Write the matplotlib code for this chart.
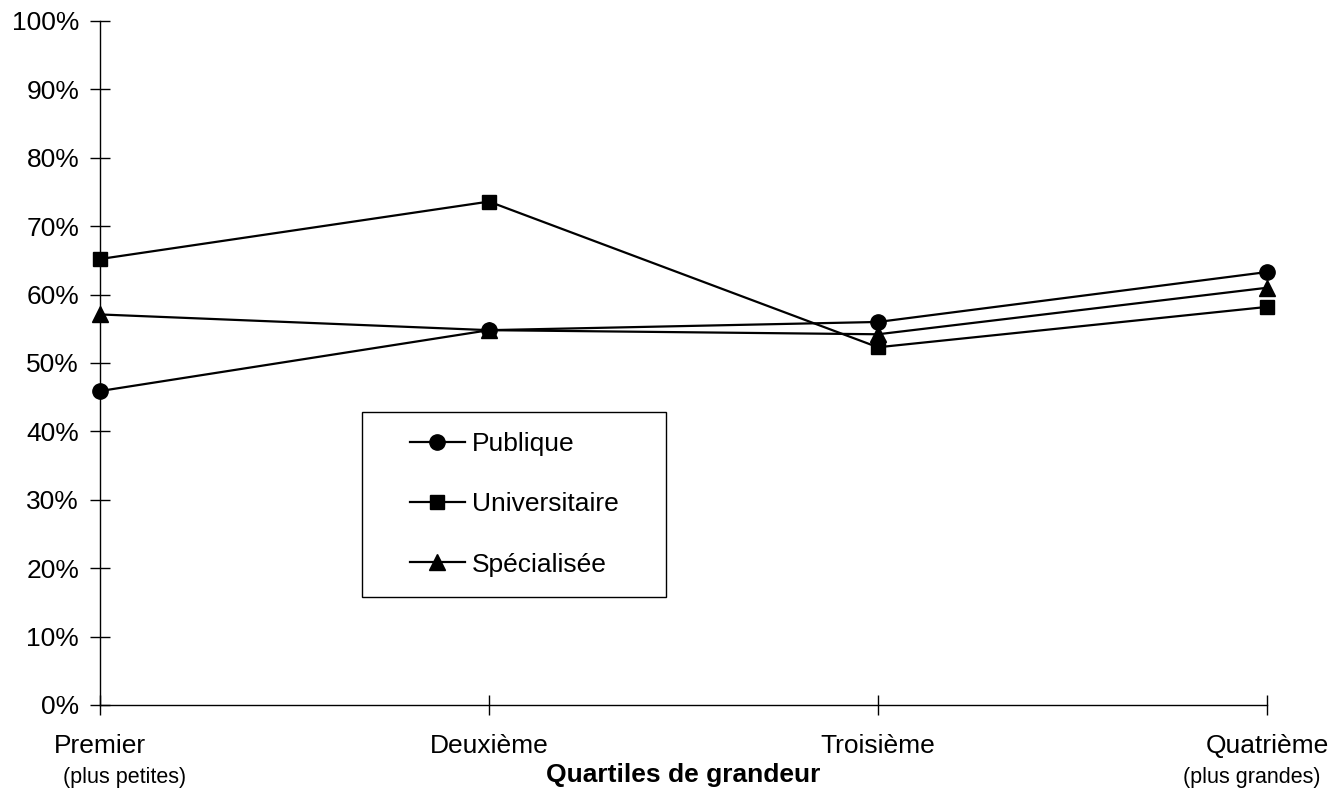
import matplotlib
matplotlib.use("Agg")
import matplotlib.pyplot as plt
from matplotlib.patches import Rectangle
from matplotlib.ticker import PercentFormatter

plt.rcParams["font.family"] = ["Liberation Sans", "DejaVu Sans"]

categories = ["Premier", "Deuxième", "Troisième", "Quatrième"]
sub_labels = ["(plus petites)", "", "", "(plus grandes)"]
publique = [45.9, 54.8, 56.0, 63.3]
universitaire = [65.2, 73.6, 52.3, 58.2]
specialisee = [57.1, 54.8, 54.2, 61.0]

fig = plt.figure(figsize=(13.32, 7.91), dpi=100)
ax = fig.add_axes([100 / 1332, 1 - 705 / 791, 1167 / 1332, 684 / 791])

x = list(range(len(categories)))
ax.plot(x, publique, color="black", lw=1.6, marker="o", ms=11, label="Publique", clip_on=False)
ax.plot(x, universitaire, color="black", lw=1.6, marker="s", ms=10, label="Universitaire", clip_on=False)
ax.plot(x, specialisee, color="black", lw=1.6, marker="^", ms=11, label="Spécialisée", clip_on=False)

ax.set_xlim(0, 3)
ax.set_ylim(0, 100)
ax.set_yticks(range(0, 101, 10))
ax.yaxis.set_major_formatter(PercentFormatter(decimals=0))
ax.set_xticks(x)
ax.set_xticklabels(categories)
ax.tick_params(axis="both", direction="inout", length=14, width=1, labelsize=19, colors="black")
ax.tick_params(axis="x", pad=14)
ax.tick_params(axis="y", pad=8)

for s in ["top", "right"]:
    ax.spines[s].set_visible(False)
for s in ["left", "bottom"]:
    ax.spines[s].set_linewidth(1)

# sous-libellés des quartiles extrêmes
ax.text(0.0214, -0.09, sub_labels[0], transform=ax.transAxes, ha="center", va="top", fontsize=15.5)
ax.text(0.987, -0.09, sub_labels[3], transform=ax.transAxes, ha="center", va="top", fontsize=15.5)
ax.text(0.5, -0.085, "Quartiles de grandeur", transform=ax.transAxes, ha="center", va="top",
        fontsize=19, fontweight="bold")

# cadre de la légende dessiné à part pour garder ses marges
x0, y0 = (362 - 100) / 1167, (705 - 597) / 684
w, h = (666 - 362) / 1167, (597 - 412) / 684
ax.add_patch(Rectangle((x0, y0), w, h, transform=ax.transAxes, fill=False,
                       edgecolor="black", lw=1, zorder=4))
ax.legend(loc="center", bbox_to_anchor=(x0, y0, w, h), fontsize=19, frameon=False,
          handlelength=2.1, handletextpad=0.25, labelspacing=1.37, borderpad=0.5)

fig.savefig("out.png", dpi=100)
